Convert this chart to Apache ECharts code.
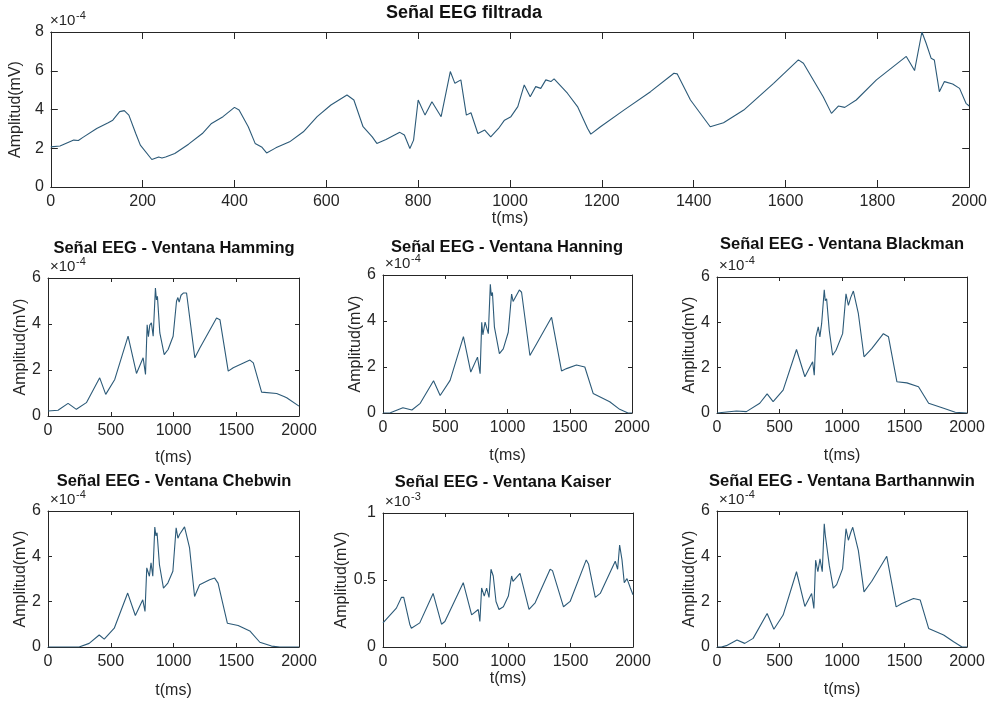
<!DOCTYPE html>
<html>
<head>
<meta charset="utf-8">
<script src="https://cdn.jsdelivr.net/npm/echarts@6/dist/echarts.min.js"></script>
<style>
html, body { margin: 0; padding: 0; background: #fff; }
#chart { width: 990px; height: 706px; }
</style>
</head>
<body>
<div id="chart"></div>
<script>
// Filtered EEG trace, amplitude in units of 1e-4 mV, time in ms
const eegFiltrada = [[0,2.07],[20,2.12],[50,2.42],[60,2.40],[70,2.56],[100,3.02],[125,3.32],[135,3.45],[150,3.89],[160,3.94],[170,3.71],[185,2.76],[195,2.16],[220,1.42],[235,1.55],[242,1.50],[250,1.55],[270,1.73],[300,2.21],[330,2.76],[350,3.28],[375,3.63],[400,4.11],[410,3.97],[430,3.11],[445,2.25],[460,2.05],[470,1.76],[490,2.02],[520,2.33],[550,2.85],[580,3.63],[610,4.23],[645,4.75],[660,4.49],[680,3.11],[700,2.59],[710,2.25],[730,2.45],[760,2.82],[770,2.68],[782,1.99],[790,2.42],[800,4.49],[815,3.71],[830,4.40],[850,3.63],[870,5.96],[880,5.35],[893,5.53],[905,3.71],[915,3.83],[930,2.76],[945,2.94],[958,2.59],[975,3.02],[988,3.45],[1002,3.63],[1017,4.15],[1031,5.27],[1044,4.66],[1056,5.18],[1067,5.09],[1078,5.53],[1089,5.44],[1096,5.58],[1125,4.84],[1147,4.15],[1169,3.02],[1176,2.73],[1197,3.11],[1248,3.97],[1306,4.92],[1357,5.87],[1364,5.84],[1393,4.49],[1436,3.11],[1465,3.32],[1509,3.97],[1574,5.35],[1628,6.56],[1639,6.39],[1682,4.66],[1700,3.80],[1715,4.18],[1729,4.11],[1754,4.49],[1798,5.53],[1863,6.74],[1881,6.01],[1897,8.0],[1906,7.43],[1917,6.65],[1924,6.56],[1935,4.92],[1946,5.44],[1964,5.32],[1979,5.09],[1993,4.32],[2000,4.18]];

// Windowed versions, units of 1e-4 mV
const hamming = [[0,0.22],[80,0.25],[160,0.55],[226,0.29],[306,0.58],[412,1.66],[460,0.94],[532,1.59],[638,3.47],[705,1.85],[758,2.53],[777,1.81],[790,3.97],[800,3.45],[811,3.95],[824,4.05],[838,3.47],[856,5.56],[864,5.05],[872,5.20],[891,3.61],[926,2.67],[957,2.89],[997,3.47],[1024,4.99],[1035,5.15],[1045,4.95],[1060,5.25],[1080,5.35],[1104,5.35],[1170,2.53],[1210,2.96],[1343,4.26],[1370,4.19],[1436,1.95],[1476,2.10],[1609,2.43],[1636,2.31],[1702,1.04],[1822,0.98],[1880,0.85],[1902,0.79],[2000,0.43]];
const hanning = [[0,0],[59,0.01],[160,0.23],[232,0.13],[299,0.42],[406,1.40],[459,0.76],[539,1.42],[646,3.32],[705,1.78],[759,2.43],[780,1.71],[793,3.94],[802,3.40],[812,3.37],[820,3.95],[828,4.01],[846,3.45],[862,5.60],[870,5.10],[879,5.24],[895,3.73],[935,2.58],[966,2.79],[1006,3.51],[1033,5.17],[1045,4.85],[1060,4.89],[1095,5.35],[1113,5.25],[1180,2.50],[1234,3.01],[1354,4.16],[1434,1.83],[1474,1.93],[1554,2.09],[1621,2.00],[1688,0.85],[1821,0.49],[1901,0.16],[1968,0],[2000,0]];
const blackman = [[0,0],[155,0.09],[235,0.06],[342,0.43],[401,0.84],[449,0.50],[529,1.01],[636,2.80],[703,1.60],[765,2.26],[778,1.67],[791,3.36],[810,3.80],[823,3.36],[837,3.94],[858,5.44],[866,4.95],[877,5.04],[898,3.65],[925,2.55],[952,2.77],[1005,3.50],[1032,5.26],[1051,4.75],[1070,5.10],[1091,5.38],[1131,4.38],[1176,2.48],[1238,2.84],[1331,3.50],[1372,3.36],[1439,1.38],[1519,1.33],[1612,1.16],[1693,0.43],[1813,0.21],[1906,0.03],[2000,0]];
const chebwin = [[0,0],[248,0],[328,0.16],[408,0.53],[448,0.35],[528,0.83],[635,2.38],[696,1.39],[755,2.08],[773,1.57],[787,3.49],[808,3.12],[821,3.71],[835,3.12],[851,5.29],[860,4.90],[869,5.04],[888,3.63],[920,2.60],[955,2.82],[995,3.34],[1021,5.26],[1035,4.80],[1048,4.96],[1088,5.30],[1128,4.37],[1168,2.23],[1208,2.75],[1288,2.97],[1328,3.04],[1355,2.82],[1429,1.05],[1515,0.95],[1608,0.71],[1688,0.21],[1781,0.04],[1848,0],[2000,0]];
const barthannwin = [[0,0],[35,0],[75,0.06],[160,0.31],[222,0.16],[289,0.38],[401,1.48],[455,0.78],[529,1.41],[636,3.32],[703,1.79],[757,2.36],[775,1.70],[789,3.83],[807,3.32],[824,3.89],[842,3.32],[858,5.44],[866,4.95],[877,5.00],[898,3.61],[930,2.60],[957,2.75],[1005,3.46],[1032,5.22],[1051,4.71],[1070,5.05],[1086,5.28],[1131,4.25],[1176,2.43],[1238,2.90],[1358,4.00],[1433,1.77],[1479,1.92],[1572,2.14],[1626,2.07],[1693,0.82],[1813,0.53],[1893,0.23],[1960,0],[2000,0]];
// Kaiser window output, units of 1e-3 mV
const kaiser = [[0,0.18],[107,0.29],[147,0.37],[166,0.37],[214,0.17],[227,0.14],[294,0.18],[401,0.40],[468,0.17],[495,0.19],[642,0.48],[709,0.24],[762,0.28],[775,0.19],[789,0.44],[810,0.38],[829,0.44],[848,0.37],[864,0.58],[882,0.53],[904,0.34],[928,0.28],[963,0.30],[1003,0.38],[1029,0.53],[1040,0.49],[1051,0.50],[1096,0.55],[1168,0.28],[1217,0.33],[1337,0.58],[1356,0.57],[1444,0.30],[1497,0.34],[1626,0.65],[1644,0.62],[1698,0.37],[1738,0.40],[1858,0.64],[1877,0.58],[1893,0.76],[1912,0.65],[1930,0.48],[1952,0.51],[1979,0.44],[2000,0.39]];

const titles = ['Señal EEG filtrada', 'Señal EEG - Ventana Hamming', 'Señal EEG - Ventana Hanning', 'Señal EEG - Ventana Blackman', 'Señal EEG - Ventana Chebwin', 'Señal EEG - Ventana Kaiser', 'Señal EEG - Ventana Barthannwin'];
const exponents = ['-4', '-4', '-4', '-4', '-4', '-3', '-4'];
const xLabel = 't(ms)';
const yLabel = 'Amplitud(mV)';

const INK = '#262626';
const LINE = '#2c5a78';
const FONT = '"Liberation Sans", Arial, Helvetica, sans-serif';

// Panel layout: grid box, axis scale, title anchor, label gaps
const panels = [
  { data: eegFiltrada, grid: {left: 48, top: 32, width: 922, height: 155}, xInt: 200, yMax: 8, yInt: 2, tick: 7, tx: 464, ty: 13, tsize: 18, xGap: 22, yGap: 17 },
  { data: hamming,     grid: {left: 48, top: 278, width: 251, height: 138}, xInt: 500, yMax: 6, yInt: 2, tick: 4, tx: 174, ty: 248, tsize: 16.5, xGap: 34, yGap: 19 },
  { data: hanning,     grid: {left: 383, top: 275, width: 249, height: 138}, xInt: 500, yMax: 6, yInt: 2, tick: 4, tx: 507, ty: 247, tsize: 16.5, xGap: 35, yGap: 19 },
  { data: blackman,    grid: {left: 717, top: 277, width: 250, height: 136}, xInt: 500, yMax: 6, yInt: 2, tick: 4, tx: 842, ty: 244, tsize: 16.5, xGap: 35, yGap: 18 },
  { data: chebwin,     grid: {left: 48, top: 511, width: 251, height: 136}, xInt: 500, yMax: 6, yInt: 2, tick: 4, tx: 174, ty: 481, tsize: 16.5, xGap: 36, yGap: 19 },
  { data: kaiser,      grid: {left: 383, top: 513, width: 250, height: 134}, xInt: 500, yMax: 1, yInt: 0.5, tick: 4, tx: 503, ty: 482, tsize: 16.5, xGap: 23, yGap: 32 },
  { data: barthannwin, grid: {left: 717, top: 511, width: 250, height: 136}, xInt: 500, yMax: 6, yInt: 2, tick: 4, tx: 842, ty: 481, tsize: 16.5, xGap: 35, yGap: 18 }
];

const grids = [], xAxes = [], yAxes = [], series = [], graphics = [];
const lineStyle = { color: INK, width: 1 };
const plain = v => String(v);

panels.forEach((p, i) => {
  grids.push(Object.assign({ show: false, containLabel: false }, p.grid));
  const tickStyle = { show: true, inside: true, length: p.tick, lineStyle: { color: INK, width: 1 } };
  // bottom x axis with labels
  xAxes.push({
    type: 'value', gridIndex: i, min: 0, max: 2000, interval: p.xInt, position: 'bottom',
    axisLine: { show: true, onZero: false, lineStyle }, axisTick: tickStyle,
    axisLabel: { color: INK, fontSize: 16, fontFamily: FONT, margin: 7, formatter: plain },
    splitLine: { show: false },
    name: xLabel, nameLocation: 'middle', nameGap: p.xGap,
    nameTextStyle: { color: INK, fontSize: 16, fontFamily: FONT }
  });
  // top x axis (box edge, ticks only)
  xAxes.push({
    type: 'value', gridIndex: i, min: 0, max: 2000, interval: p.xInt, position: 'top',
    axisLine: { show: true, onZero: false, lineStyle }, axisTick: tickStyle,
    axisLabel: { show: false }, splitLine: { show: false }
  });
  yAxes.push({
    type: 'value', gridIndex: i, min: 0, max: p.yMax, interval: p.yInt, position: 'left',
    axisLine: { show: true, onZero: false, lineStyle }, axisTick: tickStyle,
    axisLabel: { color: INK, fontSize: 16, fontFamily: FONT, margin: 7, formatter: plain },
    splitLine: { show: false },
    name: yLabel, nameLocation: 'middle', nameGap: p.yGap,
    nameTextStyle: { color: INK, fontSize: 16, fontFamily: FONT }
  });
  // right y axis (box edge, ticks only)
  yAxes.push({
    type: 'value', gridIndex: i, min: 0, max: p.yMax, interval: p.yInt, position: 'right',
    axisLine: { show: true, onZero: false, lineStyle }, axisTick: tickStyle,
    axisLabel: { show: false }, splitLine: { show: false }
  });
  series.push({
    type: 'line', xAxisIndex: 2 * i, yAxisIndex: 2 * i, data: p.data,
    showSymbol: false, symbol: 'none', smooth: false, animation: false,
    lineStyle: { color: LINE, width: 1.1 }, clip: true
  });
  // panel title
  graphics.push({
    type: 'text', x: p.tx, y: p.ty,
    style: { text: titles[i], fill: '#111', font: 'bold ' + p.tsize + 'px ' + FONT, textAlign: 'center', textVerticalAlign: 'middle' }
  });
  // exponent annotation above the y axis
  const ex = p.grid.left + 2, ey = p.grid.top - 4;
  graphics.push({
    type: 'text', x: ex, y: ey,
    style: { text: '×10', fill: INK, font: '15px ' + FONT, textAlign: 'left', textVerticalAlign: 'bottom' }
  });
  graphics.push({
    type: 'text', x: ex + 26, y: ey - 7,
    style: { text: exponents[i], fill: INK, font: '11px ' + FONT, textAlign: 'left', textVerticalAlign: 'bottom' }
  });
});

const chart = echarts.init(document.getElementById('chart'), null, { renderer: 'canvas' });
chart.setOption({
  backgroundColor: '#ffffff',
  animation: false,
  grid: grids,
  xAxis: xAxes,
  yAxis: yAxes,
  series: series,
  graphic: graphics
});
</script>
</body>
</html>
